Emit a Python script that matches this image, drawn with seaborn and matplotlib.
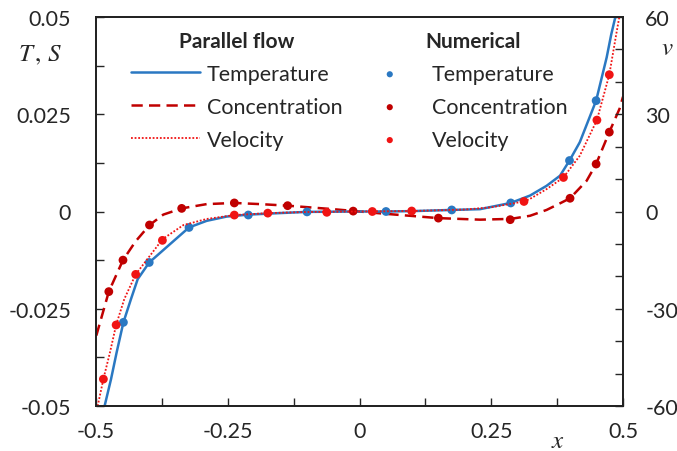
import matplotlib
matplotlib.use("Agg")
import matplotlib.pyplot as plt
import seaborn as sns

# parallel flow (analytical) curves
x_t_line = [-0.4835, -0.4715, -0.4608, -0.448, -0.4336, -0.4209, -0.399, -0.3596, -0.3235, -0.29,
            -0.252, -0.211, -0.15, -0.0996, 0.0, 0.0503, 0.1, 0.175, 0.2287, 0.287, 0.3236,
            0.355, 0.3805, 0.3985, 0.418, 0.449, 0.469, 0.4778, 0.4855]
t_line = [-0.0499, -0.0431, -0.0362, -0.0285, -0.0225, -0.0174, -0.0131, -0.0084, -0.0041, -0.0024,
          -0.0013, -0.0008, -0.0004, -0.0001, 0.0, 0.0, 0.0001, 0.0004, 0.0006, 0.0022, 0.0041,
          0.0066, 0.0092, 0.0131, 0.0178, 0.0285, 0.0396, 0.0456, 0.0500]

x_s_line = [-0.4994, -0.4757, -0.4488, -0.425, -0.3985, -0.3723, -0.3374, -0.29, -0.2375, -0.1888,
            -0.1364, -0.05, 0.0, 0.05, 0.1497, 0.2287, 0.287, 0.3236, 0.355, 0.3805, 0.3995,
            0.431, 0.449, 0.474, 0.4937, 0.5]
s_line = [-0.0319, -0.0206, -0.0125, -0.0077, -0.0035, -0.0008, 0.0008, 0.0019, 0.0022, 0.0019,
          0.0015, 0.0006, 0.0, -0.0006, -0.0017, -0.0021, -0.0019, -0.0011, 0.0004, 0.0021, 0.0034,
          0.0079, 0.0122, 0.0204, 0.0265, 0.0295]

x_v_line = [-0.4968, -0.486, -0.4734, -0.4618, -0.4463, -0.4247, -0.3735, -0.3343, -0.29, -0.2375,
            -0.174, -0.1, 0.0, 0.1, 0.2, 0.25, 0.3121, 0.3236, 0.355, 0.387, 0.418, 0.4505,
            0.474, 0.4873, 0.493]
v_line = [-60, -51.7, -43.4, -35.0, -27.0, -19.4, -8.5, -4.2, -2.3, -1.1,
          -0.5, -0.15, 0.0, 0.15, 0.6, 1.3, 3.1, 3.9, 6.9, 10.5, 17.2, 28.2,
          42.2, 54.8, 60]

# numerical points
x_t_pts = [-0.448, -0.399, -0.3235, -0.211, -0.0996, 0.0503, 0.175, 0.287, 0.3985, 0.449]
t_pts = [-0.0285, -0.0131, -0.0041, -0.0009, -0.0001, 0.0, 0.0004, 0.0022, 0.0131, 0.0285]

x_s_pts = [-0.4757, -0.4488, -0.3985, -0.3374, -0.2375, -0.1364, -0.012, 0.1497, 0.286, 0.3995, 0.449, 0.474]
s_pts = [-0.0206, -0.0125, -0.00347, 0.0008, 0.0022, 0.0015, 0.0001, -0.0017, -0.0021, 0.0034, 0.0122, 0.0204]

x_v_pts = [-0.486, -0.4618, -0.4247, -0.374, -0.2375, -0.174, -0.062, 0.0243, 0.099, 0.3121, 0.387, 0.4505, 0.474]
v_pts = [-51.7, -35.0, -19.4, -8.9, -1.1, -0.5, -0.25, 0.0, 0.15, 3.1, 10.5, 28.2, 42.2]

x_ticks = [-0.5, -0.25, 0, 0.25, 0.5]
x_tick_labels = ["-0.5", "-0.25", "0", "0.25", "0.5"]
x_minor = [-0.375, -0.125, 0.125, 0.375]
y_ticks = [-0.05, -0.025, 0, 0.025, 0.05]
y_tick_labels = ["-0.05", "-0.025", "0", "0.025", "0.05"]
y_minor = [-0.0375, -0.0125, 0.0125, 0.0375]
v_ticks = [-60, -30, 0, 30, 60]
v_tick_labels = ["-60", "-30", "0", "30", "60"]
v_minor = [-50, -40, -20, -10, 10, 20, 40, 50]

labels = ["Temperature", "Concentration", "Velocity"]

blue = "#2A78C2"
dark_red = "#C00000"
red = "#F01414"

sns.set_style("ticks")
plt.rcParams["font.family"] = ["Lato", "DejaVu Sans"]
plt.rcParams["mathtext.fontset"] = "stix"
plt.rcParams["axes.unicode_minus"] = False
fs = 15.5

fig = plt.figure(figsize=(6.77, 4.52), dpi=100)
ax = fig.add_axes([96 / 677, 1 - 407 / 452, 527 / 677, 389 / 452])
ax2 = ax.twinx()

sns.lineplot(x=x_s_line, y=s_line, ax=ax, color=dark_red, linewidth=1.8,
             linestyle=(0, (4.5, 2.5)), sort=False)
l_s = ax.get_lines()[-1]
sns.lineplot(x=x_t_line, y=t_line, ax=ax, color=blue, linewidth=1.8, sort=False)
l_t = ax.get_lines()[-1]
sns.scatterplot(x=x_s_pts, y=s_pts, ax=ax, color=dark_red, s=40, edgecolor="none", zorder=5)
p_s = ax.collections[-1]
sns.scatterplot(x=x_t_pts, y=t_pts, ax=ax, color=blue, s=40, edgecolor="none", zorder=5)
p_t = ax.collections[-1]

sns.lineplot(x=x_v_line, y=v_line, ax=ax2, color=red, linewidth=1.3,
             linestyle=(0, (1, 1)), sort=False)
l_v = ax2.get_lines()[-1]
sns.scatterplot(x=x_v_pts, y=v_pts, ax=ax2, color=red, s=40, edgecolor="none", zorder=5)
p_v = ax2.collections[-1]

ax.set_xlim(-0.5, 0.5)
ax.set_ylim(-0.05, 0.05)
ax2.set_ylim(-60, 60)

ax.set_xticks(x_ticks, labels=x_tick_labels)
ax.set_xticks(x_minor, minor=True)
ax.set_yticks(y_ticks, labels=y_tick_labels)
ax.set_yticks(y_minor, minor=True)
ax2.set_yticks(v_ticks, labels=v_tick_labels)
ax2.set_yticks(v_minor, minor=True)

ax.tick_params(axis="x", which="both", direction="in", length=6, width=1, pad=11, labelsize=fs)
ax.tick_params(axis="y", which="both", direction="in", length=6, width=1, pad=18, labelsize=fs)
ax2.tick_params(axis="y", which="both", direction="in", length=6, width=1, pad=16, labelsize=fs)
for a in (ax, ax2):
    for sp in a.spines.values():
        sp.set_visible(True)
        sp.set_linewidth(1.3)
        sp.set_color("#222222")

ax.set_xlabel("")
ax.set_ylabel("")
ax.text(-0.106, 0.905, "$T\\,,\\,S$", transform=ax.transAxes, fontsize=18, ha="center", va="center")
ax.text(1.085, 0.923, "$v$", transform=ax.transAxes, fontsize=18, ha="center", va="center")
ax.text(0.877, -0.085, "$x$", transform=ax.transAxes, fontsize=18, ha="center", va="center")

leg1 = ax2.legend(handles=[l_t, l_s, l_v], labels=labels, title="Parallel flow",
                  loc="upper left", bbox_to_anchor=(131 / 677, 1 - 32 / 452),
                  bbox_transform=fig.transFigure, frameon=False, fontsize=fs,
                  handlelength=3.2, handletextpad=0.33, labelspacing=0.6, borderpad=0,
                  borderaxespad=0, title_fontproperties={"weight": "bold", "size": 15})
ax2.add_artist(leg1)
ax2.legend(handles=[p_t, p_s, p_v], labels=labels, title="Numerical",
           loc="upper left", bbox_to_anchor=(379 / 677, 1 - 32 / 452),
           bbox_transform=fig.transFigure, frameon=False, fontsize=fs,
           handlelength=1.0, handletextpad=1.45, labelspacing=0.6, borderpad=0,
           borderaxespad=0, markerscale=0.7,
           title_fontproperties={"weight": "bold", "size": 15})

fig.savefig("out.png", dpi=100)
